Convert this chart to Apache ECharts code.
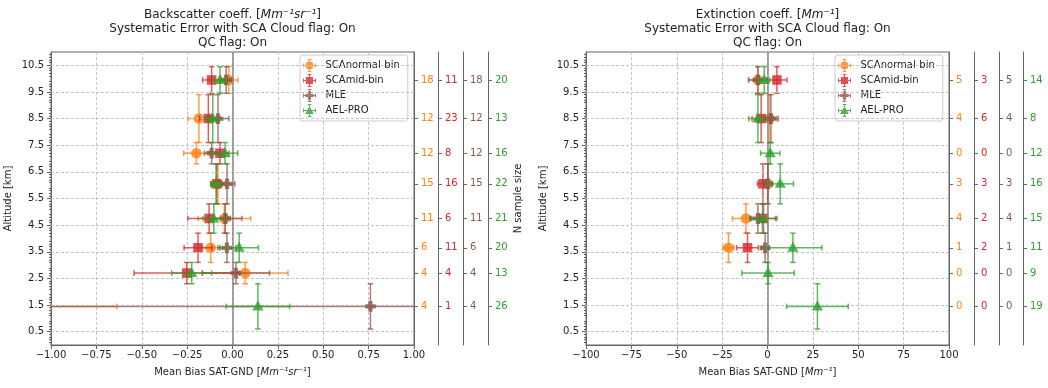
<!DOCTYPE html>
<html>
<head>
<meta charset="utf-8">
<script src="https://cdn.jsdelivr.net/npm/echarts@6/dist/echarts.min.js"></script>
<style>
  html, body { margin: 0; padding: 0; background: #fff; }
  #chart { width: 1048px; height: 388px; }
</style>
</head>
<body>
<div id="chart"></div>
<script>
// altitude bins (km) and their vertical spread
const altitudes = [9.95, 8.5, 7.2, 6.05, 4.75, 3.65, 2.7, 1.45];
const altErr = [0.5, 0.9, 0.4, 0.75, 0.55, 0.55, 0.4, 0.85];
const yTicks = [0.5, 1.5, 2.5, 3.5, 4.5, 5.5, 6.5, 7.5, 8.5, 9.5, 10.5];

// backscatter bias (Mm-1 sr-1)
const bscNormal = [-0.02, -0.185, -0.199, -0.08, -0.045, -0.12, 0.07, -1.4];
const bscNormalErr = [0.05, 0.06, 0.07, 0.04, 0.145, 0.05, 0.236, 0.763];
const bscMid = [-0.115, -0.133, -0.069, -0.087, -0.129, -0.19, -0.252, -1.5];
const bscMidErr = [0.05, 0.05, 0.05, 0.03, 0.117, 0.077, 0.29, 0];
const bscMle = [-0.035, -0.08, -0.115, -0.03, -0.04, -0.031, 0.019, 0.76];
const bscMleErr = [0.03, 0.06, 0.04, 0.043, 0.092, 0.05, 0.185, 1.9];
const bscAel = [-0.069, -0.109, -0.041, -0.091, -0.103, 0.037, -0.225, 0.14];
const bscAelErr = [0.04, 0.04, 0.07, 0.03, 0.06, 0.106, 0.11, 0.175];

// extinction bias (Mm-1)
const extNormal = [-5.3, 1.1, null, 0.3, -11.9, -21.5, null, null];
const extNormalErr = [5, 4, null, 2, 7.4, 3, null, null];
const extMid = [5.2, -3.5, null, -2.5, -2.2, -11, null, null];
const extMidErr = [5.5, 5, null, 3, 7.4, 6, null, null];
const extMle = [-5.3, 1.9, null, 0.2, -5.3, -1.3, null, null];
const extMleErr = [5.2, 4, null, 2.5, 3.5, 2, null, null];
const extAel = [-1.8, -5.3, 1.5, 7, -2.75, 14, 0.3, 27.5];
const extAelErr = [3, 5, 5.3, 7.3, 7, 16, 14.4, 17];

// sample sizes
const nBscNormal = [18, 12, 12, 15, 11, 6, 4, 4];
const nBscMid = [11, 23, 8, 16, 6, 11, 4, 1];
const nBscMle = [18, 12, 12, 15, 11, 6, 4, 4];
const nBscAel = [20, 13, 16, 22, 21, 20, 13, 26];
const nExtNormal = [5, 4, 0, 3, 4, 1, 0, 0];
const nExtMid = [3, 6, 0, 3, 2, 2, 0, 0];
const nExtMle = [5, 4, 0, 3, 4, 1, 0, 0];
const nExtAel = [14, 8, 12, 16, 15, 11, 9, 19];

const names = ['SCAnormal-bin', 'SCAmid-bin', 'MLE', 'AEL-PRO'];
const colors = ['#ff7f0e', '#d62728', '#8c564b', '#2ca02c'];
const shapes = ['circle', 'square', 'plus', 'triangle'];

// legend icons: marker with its error bars
const bars = 'M1,9.2H19V10.8H1Z M9.2,1H10.8V19H9.2Z M1,7.4H2.4V12.6H1Z M17.6,7.4H19V12.6H17.6Z M7.4,1H12.6V2.4H7.4Z M7.4,17.6H12.6V19H7.4Z';
const icons = [
  'path://' + bars + ' M15.5,10A5.5,5.5,0,1,1,4.5,10A5.5,5.5,0,1,1,15.5,10Z',
  'path://' + bars + ' M5,5H15V15H5Z',
  'path://' + bars + ' M7.8,4.2H12.2V7.8H15.8V12.2H12.2V15.8H7.8V12.2H4.2V7.8H7.8Z',
  'path://' + bars + ' M10,3.8L16,15H4Z'
];

const minus = s => String(s).replace('-', '\u2212');

function makeRender(shape) {
  return function (params, api) {
    const x = api.value(0), y = api.value(1), xe = api.value(2), ye = api.value(3);
    const c = api.coord([x, y]);
    const l = api.coord([x - xe, y]);
    const r = api.coord([x + xe, y]);
    const t = api.coord([x, y + ye]);
    const b = api.coord([x, y - ye]);
    const color = api.visual('color');
    const ls = { stroke: color, lineWidth: 1.5, opacity: 0.75 };
    const cap = 2.8;
    const kids = [];
    if (xe > 0) {
      kids.push({ type: 'line', shape: { x1: l[0], y1: c[1], x2: r[0], y2: c[1] }, style: ls });
      kids.push({ type: 'line', shape: { x1: l[0], y1: c[1] - cap, x2: l[0], y2: c[1] + cap }, style: ls });
      kids.push({ type: 'line', shape: { x1: r[0], y1: c[1] - cap, x2: r[0], y2: c[1] + cap }, style: ls });
    }
    kids.push({ type: 'line', shape: { x1: c[0], y1: t[1], x2: c[0], y2: b[1] }, style: ls });
    kids.push({ type: 'line', shape: { x1: c[0] - cap, y1: t[1], x2: c[0] + cap, y2: t[1] }, style: ls });
    kids.push({ type: 'line', shape: { x1: c[0] - cap, y1: b[1], x2: c[0] + cap, y2: b[1] }, style: ls });
    const fill = { fill: color, opacity: 0.8 };
    const cx = c[0], cy = c[1];
    if (shape === 'circle') {
      kids.push({ type: 'circle', shape: { cx, cy, r: 5.3 }, style: fill });
    } else if (shape === 'square') {
      kids.push({ type: 'rect', shape: { x: cx - 4.8, y: cy - 4.8, width: 9.6, height: 9.6 }, style: fill });
    } else if (shape === 'plus') {
      const a = 2.1, s = 5.4;
      kids.push({ type: 'polygon', shape: { points: [
        [cx - a, cy - s], [cx + a, cy - s], [cx + a, cy - a], [cx + s, cy - a], [cx + s, cy + a], [cx + a, cy + a],
        [cx + a, cy + s], [cx - a, cy + s], [cx - a, cy + a], [cx - s, cy + a], [cx - s, cy - a], [cx - a, cy - a]
      ] }, style: fill });
    } else {
      kids.push({ type: 'polygon', shape: { points: [[cx, cy - 6], [cx + 5.6, cy + 4], [cx - 5.6, cy + 4]] }, style: fill });
    }
    return { type: 'group', children: kids };
  };
}

function rows(vals, errs) {
  const out = [];
  vals.forEach((v, i) => {
    if (v !== null) out.push([v, altitudes[i], errs[i], altErr[i]]);
  });
  return out;
}

function errSeries(k, gi, vals, errs) {
  return {
    type: 'custom',
    name: names[k],
    xAxisIndex: gi,
    yAxisIndex: gi * 5,
    clip: true,
    itemStyle: { color: colors[k], opacity: 0.8 },
    encode: { x: 0, y: 1 },
    renderItem: makeRender(shapes[k]),
    data: rows(vals, errs),
    z: 3 + k
  };
}

function gridLines(gi) {
  return {
    type: 'line',
    xAxisIndex: gi,
    yAxisIndex: gi * 5,
    data: [],
    silent: true,
    z: 1,
    markLine: {
      silent: true,
      symbol: ['none', 'none'],
      label: { show: false },
      animation: false,
      data: yTicks.map(v => ({ yAxis: v, lineStyle: { color: '#c4c4c4', type: [3, 2], width: 1 } }))
        .concat([{ xAxis: 0, lineStyle: { color: '#888', type: 'solid', width: 1.5 } }])
    }
  };
}

const axisCol = '#666';

function mainY(gi, gap) {
  return {
    type: 'value', gridIndex: gi, min: 0, max: 11, interval: 1, position: 'left',
    name: 'Altitude [km]', nameLocation: 'middle', nameGap: gap, nameRotate: 90,
    nameTextStyle: { fontSize: 10, color: '#222' },
    axisLine: { show: true, onZero: false, lineStyle: { color: axisCol } },
    axisTick: { show: true, length: 4, customValues: yTicks, lineStyle: { color: axisCol } },
    minorTick: { show: true, splitNumber: 10, length: 2, lineStyle: { color: axisCol } },
    axisLabel: { customValues: yTicks, fontSize: 10, color: '#222', margin: 7, formatter: v => v.toFixed(1) },
    splitLine: { show: false }
  };
}

function nAxis(gi, k, offset, counts, withName) {
  const ax = {
    type: 'value', gridIndex: gi, min: 0, max: 11, position: 'right', offset: offset,
    axisLine: { show: true, onZero: false, lineStyle: { color: axisCol } },
    axisTick: { show: true, length: 4, customValues: altitudes, lineStyle: { color: axisCol } },
    axisLabel: {
      customValues: altitudes, fontSize: 10, color: colors[k], margin: 7,
      formatter: v => {
        const i = altitudes.findIndex(a => Math.abs(a - v) < 1e-6);
        return i < 0 ? '' : String(counts[i]);
      }
    },
    splitLine: { show: false }
  };
  if (withName) {
    ax.name = 'N sample size';
    ax.nameLocation = 'middle';
    ax.nameRotate = 90;
    ax.nameGap = 25;
    ax.nameTextStyle = { fontSize: 10, color: '#222' };
  }
  return ax;
}

function xAxisCfg(gi, min, max, interval, digits, label) {
  return {
    type: 'value', gridIndex: gi, min: min, max: max, interval: interval,
    name: label, nameLocation: 'middle', nameGap: 22,
    nameTextStyle: { fontSize: 10, color: '#222', rich: { i: { fontStyle: 'italic', fontSize: 10, color: '#222' } } },
    axisLine: { show: true, onZero: false, lineStyle: { color: axisCol } },
    axisTick: { show: true, length: 4, lineStyle: { color: axisCol } },
    axisLabel: { fontSize: 10, color: '#222', margin: 5, formatter: v => minus(v.toFixed(digits)) },
    splitLine: { show: true, lineStyle: { color: '#c4c4c4', type: [3, 2], width: 1 } }
  };
}

function legendCfg(left) {
  return {
    left: left, top: 55, orient: 'vertical',
    itemWidth: 22, itemHeight: 13, itemGap: 2,
    padding: [4, 8, 4, 3],
    backgroundColor: 'rgba(255,255,255,0.85)',
    borderColor: '#cccccc', borderWidth: 1, borderRadius: 3,
    textStyle: { fontSize: 10, color: '#222' },
    data: names.map((n, k) => ({ name: n, icon: icons[k] }))
  };
}

const chart = echarts.init(document.getElementById('chart'), null, { renderer: 'canvas' });

const titleRich = {
  i: { fontStyle: 'italic', fontSize: 12, color: '#222', lineHeight: 14, fontFamily: 'DejaVu Sans' },
  n: { fontSize: 12, color: '#222', lineHeight: 14, fontFamily: 'DejaVu Sans' }
};

chart.setOption({
  animation: false,
  textStyle: { fontFamily: 'DejaVu Sans' },
  title: [
    {
      left: 232.5, top: 8, padding: 0, textAlign: 'center',
      text: '{n|Backscatter coeff. [}{i|Mm⁻¹sr⁻¹}{n|]}\n{n|Systematic Error with SCA Cloud flag: On}\n{n|QC flag: On}',
      textStyle: { fontSize: 12, fontWeight: 'normal', color: '#222', lineHeight: 14, rich: titleRich }
    },
    {
      left: 767.5, top: 8, padding: 0, textAlign: 'center',
      text: '{n|Extinction coeff. [}{i|Mm⁻¹}{n|]}\n{n|Systematic Error with SCA Cloud flag: On}\n{n|QC flag: On}',
      textStyle: { fontSize: 12, fontWeight: 'normal', color: '#222', lineHeight: 14, rich: titleRich }
    }
  ],
  legend: [legendCfg(300), legendCfg(835)],
  grid: [
    { left: 51, top: 52, width: 363, height: 293, containLabel: false, outerBoundsMode: 'none', show: true, borderColor: axisCol, borderWidth: 1, backgroundColor: 'transparent' },
    { left: 586, top: 52, width: 363, height: 293, containLabel: false, outerBoundsMode: 'none', show: true, borderColor: axisCol, borderWidth: 1, backgroundColor: 'transparent' }
  ],
  xAxis: [
    xAxisCfg(0, -1, 1, 0.25, 2, 'Mean Bias SAT-GND [{i|Mm⁻¹sr⁻¹}]'),
    xAxisCfg(1, -100, 100, 25, 0, 'Mean Bias SAT-GND [{i|Mm⁻¹}]')
  ],
  yAxis: [
    mainY(0, 38),
    nAxis(0, 0, 0, nBscNormal, false),
    nAxis(0, 1, 24, nBscMid, false),
    nAxis(0, 2, 49, nBscMle, false),
    nAxis(0, 3, 74, nBscAel, true),
    mainY(1, 38),
    nAxis(1, 0, 0, nExtNormal, false),
    nAxis(1, 1, 25, nExtMid, false),
    nAxis(1, 2, 50, nExtMle, false),
    nAxis(1, 3, 74, nExtAel, true)
  ],
  series: [
    gridLines(0),
    gridLines(1),
    errSeries(0, 0, bscNormal, bscNormalErr),
    errSeries(1, 0, bscMid, bscMidErr),
    errSeries(2, 0, bscMle, bscMleErr),
    errSeries(3, 0, bscAel, bscAelErr),
    errSeries(0, 1, extNormal, extNormalErr),
    errSeries(1, 1, extMid, extMidErr),
    errSeries(2, 1, extMle, extMleErr),
    errSeries(3, 1, extAel, extAelErr)
  ]
});
</script>
</body>
</html>
